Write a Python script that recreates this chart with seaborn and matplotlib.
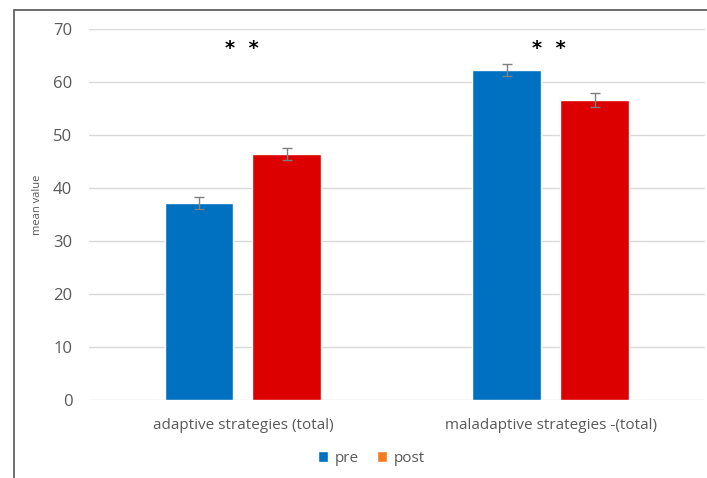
import matplotlib
matplotlib.use("Agg")
import matplotlib.pyplot as plt
import seaborn as sns
import pandas as pd
from matplotlib.patches import Patch, Rectangle

categories = ["adaptive strategies (total)", "maladaptive strategies -(total)"]
times = ["pre", "post"]
pre_values = [37.2, 62.3]
post_values = [46.4, 56.6]
pre_err = [1.1, 1.1]
post_err = [1.2, 1.3]
significance = ["* *", "* *"]
yticks = [0, 10, 20, 30, 40, 50, 60, 70]

df = pd.DataFrame({
    "category": categories * 2,
    "time": ["pre"] * 2 + ["post"] * 2,
    "value": pre_values + post_values,
    "err": pre_err + post_err,
})

sns.set_theme(style="white")
plt.rcParams["font.family"] = ["Open Sans", "DejaVu Sans"]

fig = plt.figure(figsize=(7.07, 4.78), dpi=100)
ax = fig.add_axes([0.1259, 0.1632, 0.8711, 0.7761])

bar_colors = {"pre": "#0070C0", "post": "#DD0000"}
sns.barplot(data=df, x="category", y="value", hue="time", hue_order=times,
            palette=bar_colors, width=0.571, gap=0.216, errorbar=None,
            saturation=1, legend=False, ax=ax)

# error bars at bar centers
for cont, t in zip(ax.containers, times):
    sub = df[df["time"] == t]
    xs = [p.get_x() + p.get_width() / 2 for p in cont.patches]
    ax.errorbar(xs, sub["value"].values, yerr=sub["err"].values, fmt="none",
                ecolor="#7F7F7F", elinewidth=1.0, capsize=3.5, capthick=1.0, zorder=5)

for i, s in enumerate(significance):
    ax.text(i - 0.005, 66.4, s.replace(" ", "  "), ha="center", va="center",
            fontsize=14, fontweight="bold", color="black", family="DejaVu Sans")

ax.set_ylim(0, 70)
ax.set_xlim(-0.5, 1.5)
ax.set_yticks(yticks)
ax.yaxis.grid(True, color="#D9D9D9", linewidth=1.0)
ax.set_axisbelow(True)
for sp in ax.spines.values():
    sp.set_visible(False)
ax.tick_params(axis="both", length=0, labelcolor="#595959")
ax.tick_params(axis="y", pad=12, labelsize=12)
ax.tick_params(axis="x", pad=13, labelsize=11)
ax.set_xlabel("")
ax.set_ylabel("mean value", fontsize=8, color="#595959")
ax.yaxis.set_label_coords(-0.074, 0.526)

handles = [Patch(facecolor="#0070C0", label="pre"), Patch(facecolor="#F47B20", label="post")]
fig.legend(handles=handles, loc="center", bbox_to_anchor=(0.525, 0.041), ncol=2,
           frameon=False, fontsize=11, labelcolor="#595959", handlelength=0.7,
           handleheight=0.7, handletextpad=0.4, columnspacing=1.2)

fig.patches.append(Rectangle((14 / 707, -0.1), 1.2, 1 - 10 / 478 + 0.1,
                             transform=fig.transFigure, fill=False,
                             edgecolor="#555555", linewidth=1.2))

fig.savefig("out.png", dpi=100)
